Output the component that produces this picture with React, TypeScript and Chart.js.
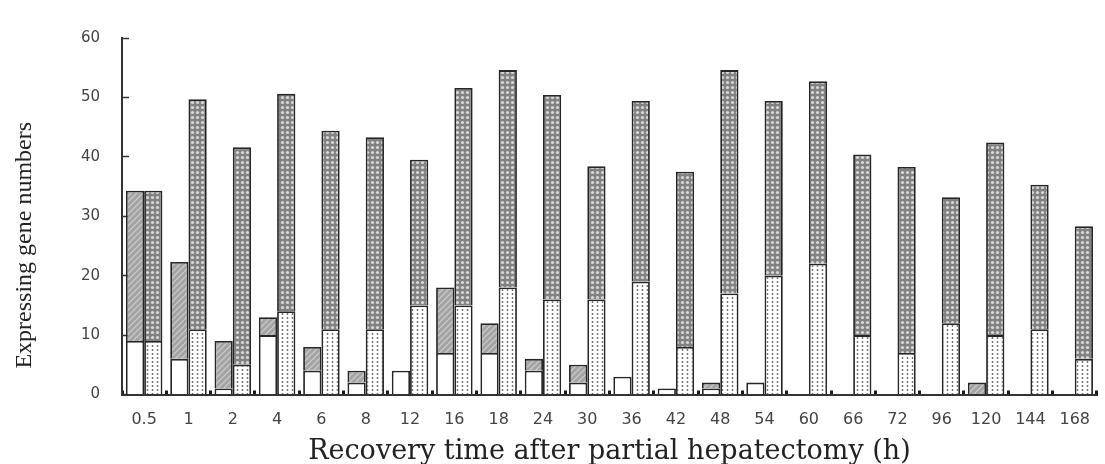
import React, { useEffect, useRef } from "react";
import { Chart, registerables } from "chart.js";

Chart.register(...registerables);

// ---- data ----
const labels = ["0.5", "1", "2", "4", "6", "8", "12", "16", "18", "24", "30", "36", "42", "48", "54", "60", "66", "72", "96", "120", "144", "168"];
const leftLower = [9, 6, 1, 10, 4, 2, 4, 7, 7, 4, 2, 3, 1, 1, 2, 0, 0, 0, 0, 0, 0, 0];
const leftUpper = [25.3, 16.3, 8, 3, 4, 2, 0, 11, 5, 2, 3, 0, 0, 1, 0, 0, 0, 0, 0, 2, 0, 0];
const rightLower = [9, 11, 5, 14, 11, 11, 15, 15, 18, 16, 16, 19, 8, 17, 20, 22, 10, 7, 12, 10, 11, 6];
const rightUpper = [25.3, 38.7, 36.6, 36.6, 33.4, 32.3, 24.5, 36.6, 36.6, 34.4, 22.4, 30.4, 29.5, 37.6, 29.4, 30.7, 30.4, 31.3, 21.2, 32.4, 24.3, 22.3];
const yTicks = [0, 10, 20, 30, 40, 50, 60];
const xTitle = "Recovery time after partial hepatectomy (h)";
const yTitle = "Expressing gene numbers";

function makePattern(w: number, h: number, draw: (g: CanvasRenderingContext2D) => void) {
  const c = document.createElement("canvas");
  c.width = w;
  c.height = h;
  const g = c.getContext("2d")!;
  draw(g);
  return g.createPattern(c, "repeat")!;
}

const yTitlePlugin = {
  id: "yTitleText",
  afterDraw(chart: any) {
    const ctx = chart.ctx as CanvasRenderingContext2D;
    const area = chart.chartArea;
    ctx.save();
    ctx.translate(25, (area.top + area.bottom) / 2 + 29);
    ctx.rotate(-Math.PI / 2);
    ctx.font = '24px "Liberation Serif"';
    ctx.fillStyle = "#222";
    ctx.textAlign = "center";
    ctx.textBaseline = "middle";
    ctx.fillText(yTitle, 0, 0);
    ctx.restore();
  },
};

export default function App() {
  const ref = useRef<HTMLCanvasElement>(null);

  useEffect(() => {
    const hatch = makePattern(6, 6, (g) => {
      g.fillStyle = "#a4a4a4";
      g.fillRect(0, 0, 6, 6);
      g.strokeStyle = "#cdcdcd";
      g.lineWidth = 1.2;
      g.beginPath();
      g.moveTo(-1, 7);
      g.lineTo(7, -1);
      g.moveTo(-1, 1);
      g.lineTo(1, -1);
      g.moveTo(5, 7);
      g.lineTo(7, 5);
      g.stroke();
    });
    const darkDots = makePattern(5, 5, (g) => {
      g.fillStyle = "#828282";
      g.fillRect(0, 0, 5, 5);
      g.fillStyle = "#d8d8d8";
      g.beginPath();
      g.arc(2.5, 2.5, 1.6, 0, Math.PI * 2);
      g.fill();
    });
    const lightDots = makePattern(5, 4, (g) => {
      g.fillStyle = "#ffffff";
      g.fillRect(0, 0, 5, 4);
      g.fillStyle = "#6a6a6a";
      g.beginPath();
      g.arc(2.5, 2, 0.9, 0, Math.PI * 2);
      g.fill();
    });

    const common = { borderColor: "#262626", borderWidth: 1.8 };
    const chart = new Chart(ref.current!, {
      type: "bar",
      data: {
        labels,
        datasets: [
          { label: "L-lower", data: leftLower, stack: "L", backgroundColor: "#ffffff", ...common },
          { label: "L-upper", data: leftUpper, stack: "L", backgroundColor: hatch, ...common },
          { label: "R-lower", data: rightLower, stack: "R", backgroundColor: lightDots, ...common },
          { label: "R-upper", data: rightUpper, stack: "R", backgroundColor: darkDots, ...common },
        ],
      },
      options: {
        responsive: false,
        animation: false,
        devicePixelRatio: 1,
        layout: { padding: { top: 19.5, left: 0, right: 0, bottom: 0 } },
        datasets: { bar: { categoryPercentage: 0.824, barPercentage: 1 } },
        plugins: {
          legend: { display: false },
          tooltip: { enabled: false },
        },
        scales: {
          x: {
            stacked: true,
            grid: {
              offset: true,
              drawOnChartArea: false,
              drawTicks: true,
              tickLength: -4,
              tickWidth: 3,
              tickColor: "#1a1a1a",
            },
            border: { display: true, color: "#333", width: 2 },
            ticks: {
              font: { family: "DejaVu Sans", size: 16 },
              color: "#444",
              padding: 20,
              maxRotation: 0,
              autoSkip: false,
            },
            title: {
              display: true,
              text: xTitle,
              font: { family: "DejaVu Serif", size: 27, lineHeight: 0.9 },
              color: "#222",
              padding: { top: 0, bottom: 0 },
            },
            afterFit: (s: any) => {
              s.height = 69.5;
            },
          },
          y: {
            stacked: true,
            min: 0,
            max: 60,
            afterBuildTicks: (s: any) => {
              s.ticks = yTicks.map((v) => ({ value: v }));
            },
            ticks: {
              font: { family: "DejaVu Sans", size: 15 },
              color: "#444",
              padding: 29,
            },
            grid: {
              drawOnChartArea: false,
              drawTicks: true,
              tickLength: -7,
              tickWidth: 1.5,
              tickColor: "#333",
            },
            border: { display: true, color: "#333", width: 2 },
            afterFit: (s: any) => {
              s.width = 122;
            },
          },
        },
      } as any,
      plugins: [yTitlePlugin],
    });
    return () => chart.destroy();
  }, []);

  return (
    <div
      style={{
        position: "fixed",
        left: 0,
        top: 0,
        width: 1105,
        height: 464,
        overflow: "hidden",
        background: "#fff",
      }}
    >
      <canvas ref={ref} width={1110} height={464} style={{ display: "block" }} />
    </div>
  );
}
